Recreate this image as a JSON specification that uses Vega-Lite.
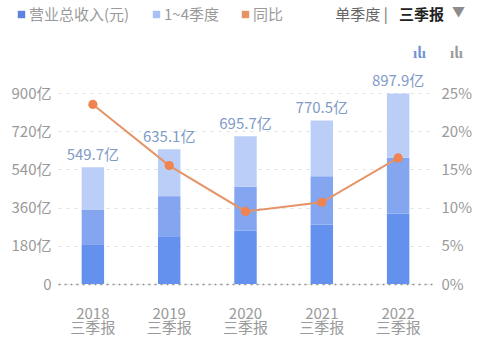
{"$schema":"https://vega.github.io/schema/vega-lite/v6.json","width":375,"height":191,"autosize":{"type":"none"},"padding":{"left":58,"top":93,"right":46,"bottom":68},"background":"#ffffff",
"title":{"text":"三季报","subtitle":"单季度  |\u3000\u3000\u3000\u2002\u2005\u200b","anchor":"end","frame":"group","orient":"top","offset":-18,"dx":11,"fontSize":15,"fontWeight":"bold","color":"#222222","font":"Noto Sans CJK SC","subtitleFont":"Noto Sans CJK SC","subtitleFontSize":15,"subtitleFontWeight":"normal","subtitleColor":"#666666","subtitlePadding":-15},
"config":{"view":{"stroke":null},"font":"Noto Sans CJK SC"},
"datasets":{"seg":[
{"year":"2018","seg":"Q1","value":184,"o":1},{"year":"2018","seg":"Q2","value":167,"o":2},{"year":"2018","seg":"Q3","value":198.7,"o":3},
{"year":"2019","seg":"Q1","value":225,"o":1},{"year":"2019","seg":"Q2","value":189,"o":2},{"year":"2019","seg":"Q3","value":221.1,"o":3},
{"year":"2020","seg":"Q1","value":252,"o":1},{"year":"2020","seg":"Q2","value":206,"o":2},{"year":"2020","seg":"Q3","value":237.7,"o":3},
{"year":"2021","seg":"Q1","value":280,"o":1},{"year":"2021","seg":"Q2","value":228,"o":2},{"year":"2021","seg":"Q3","value":262.5,"o":3},
{"year":"2022","seg":"Q1","value":332,"o":1},{"year":"2022","seg":"Q2","value":263,"o":2},{"year":"2022","seg":"Q3","value":302.9,"o":3}],
"tot":[{"year":"2018","total":549.7,"label":"549.7亿","yoy":23.5},{"year":"2019","total":635.1,"label":"635.1亿","yoy":15.5},{"year":"2020","total":695.7,"label":"695.7亿","yoy":9.5},{"year":"2021","total":770.5,"label":"770.5亿","yoy":10.7},{"year":"2022","total":897.9,"label":"897.9亿","yoy":16.5}],
"leg":[{"series":"营业总收入(元)"},{"series":"1~4季度"},{"series":"同比"}]},
"encoding":{"x":{"field":"year","type":"nominal","scale":{"domain":["2018","2019","2020","2021","2022"],"paddingInner":0.706,"paddingOuter":0.31},
"axis":{"title":"▼","titleColor":"#8c8c8c","titleFontSize":13,"titleFontWeight":"normal","titleX":400,"titleY":-279,"titleAnchor":"middle","labelAngle":0,"labelExpr":"[datum.label,'三季报']","labelFontSize":15,"labelColor":"#9a9a9a","labelFont":"Noto Sans CJK SC","labelPadding":22,"labelLineHeight":14,"labelOverlap":false,"labelBound":false,"ticks":false,"domainColor":"#8f8f8f","domainDash":[2,4],"domainWidth":1.5}}},
"layer":[
{"layer":[
{"data":{"name":"seg"},"mark":{"type":"bar"},"encoding":{"y":{"field":"value","type":"quantitative","stack":"zero","scale":{"domain":[0,900],"nice":false},"axis":{"title":"ılı","titleColor":"#6f93d8","titleFontSize":15,"titleFontWeight":"bold","titleAngle":0,"titleX":361,"titleY":-33,"values":[0,180,360,540,720,900],"tickCount":6,"labelExpr":"datum.value==0?'0':datum.value+'亿'","labelFontSize":15,"labelColor":"#9a9a9a","labelFont":"Noto Sans CJK SC","labelPadding":7,"labelOverlap":false,"labelBound":false,"labelFlush":false,"ticks":false,"domain":false,"grid":true,"gridColor":"#e2e2e2","gridDash":[3,5],"gridWidth":1}},"color":{"field":"seg","type":"nominal","scale":{"domain":["Q1","Q2","Q3"],"range":["#6490EE","#84A5F0","#BBCEF8"]},"legend":null},"order":{"field":"o","type":"quantitative"}}},
{"data":{"name":"tot"},"mark":{"type":"text","dy":-12,"fontSize":15,"color":"#7F9BC8","font":"Noto Sans CJK SC"},"encoding":{"y":{"field":"total","type":"quantitative"},"text":{"field":"label","type":"nominal"}}}
]},
{"layer":[
{"data":{"name":"tot"},"mark":{"type":"line","color":"#E59468","strokeWidth":2},"encoding":{"y":{"field":"yoy","type":"quantitative","scale":{"domain":[0,25],"nice":false},"axis":{"orient":"right","title":"ılı","titleColor":"#9a9a9a","titleFontSize":15,"titleFontWeight":"bold","titleAngle":0,"titleX":23,"titleY":-33,"values":[0,5,10,15,20,25],"tickCount":6,"labelExpr":"datum.value+'%'","labelFontSize":15,"labelColor":"#9a9a9a","labelFont":"Noto Sans CJK SC","labelPadding":8,"labelOverlap":false,"labelBound":false,"ticks":false,"domain":false,"grid":false}}}},
{"data":{"name":"tot"},"mark":{"type":"point","filled":true,"opacity":1,"size":85,"color":"#F0834F"},"encoding":{"y":{"field":"yoy","type":"quantitative"}}},
{"data":{"name":"leg"},"mark":{"type":"point","filled":true,"opacity":1},"encoding":{"y":{"field":"nothing","type":"quantitative"},"color":{"field":"series","type":"nominal","scale":{"domain":["营业总收入(元)","1~4季度","同比"],"range":["#5B84E0","#A9C0F2","#E59468"]},"legend":{"title":null,"orient":"none","legendX":-44,"legendY":-86,"direction":"horizontal","columns":3,"gridAlign":"none","symbolType":"square","symbolSize":55,"symbolOpacity":1,"labelFontSize":15,"labelColor":"#9a9a9a","labelFont":"Noto Sans CJK SC","labelOffset":0,"columnPadding":19}}}}
]}
],
"resolve":{"scale":{"y":"independent","color":"independent"},"axis":{"y":"independent"}}}
